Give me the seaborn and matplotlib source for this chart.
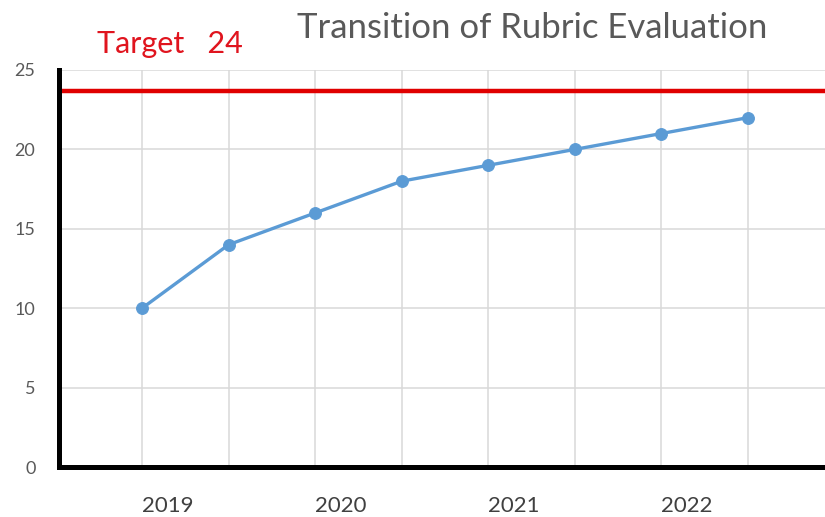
import matplotlib
matplotlib.use("Agg")
import matplotlib.pyplot as plt
import seaborn as sns
import pandas as pd

# Data
points = [0, 1, 2, 3, 4, 5, 6, 7]
scores = [10, 14, 16, 18, 19, 20, 21, 22]
year_labels = ["2019", "", "2020", "", "2021", "", "2022", ""]
target_label = "Target   24"
target_line = 23.7
title = "Transition of Rubric Evaluation"
y_ticks = [0, 5, 10, 15, 20, 25]

df = pd.DataFrame({"point": points, "score": scores})

sns.set_theme(style="white")
plt.rcParams["font.family"] = ["Lato", "DejaVu Sans"]

fig = plt.figure(figsize=(8.25, 5.17), dpi=100)
ax = fig.add_axes([59 / 825, 1 - 467 / 517, 1 - 59 / 825, (467 - 70) / 517])

sns.lineplot(data=df, x="point", y="score", ax=ax, color="#5B9BD5",
             linewidth=2.4, marker="o", markersize=8.5,
             markeredgecolor="#5B9BD5", zorder=4)
ax.axhline(target_line, color="#E00000", linewidth=3.2, zorder=3)

ax.set_xlim(-0.96, 7.89)
ax.set_ylim(0, 25)
ax.set_xticks(points)
ax.set_xticklabels(year_labels, ha="left", fontsize=16, color="#404040")
ax.set_yticks(y_ticks)
ax.set_yticklabels([str(v) for v in y_ticks], fontsize=13, color="#595959")
ax.tick_params(axis="x", length=0, pad=21)
ax.tick_params(axis="y", length=0, pad=17)
ax.grid(True, color="#D9D9D9", linewidth=1.1, zorder=0)
ax.set_xlabel("")
ax.set_ylabel("")

for s in ["top", "right"]:
    ax.spines[s].set_visible(False)
for s in ["left", "bottom"]:
    ax.spines[s].set_color("black")
    ax.spines[s].set_linewidth(3.6)
    ax.spines[s].set_zorder(5)

fig.text(532 / 825, 1 - 38 / 517, title, ha="center", va="baseline",
         fontsize=25, color="#595959")
fig.text(97 / 825, 1 - 53 / 517, target_label, ha="left", va="baseline",
         fontsize=22, color="#E0141E")

fig.savefig("out.png", dpi=100)
